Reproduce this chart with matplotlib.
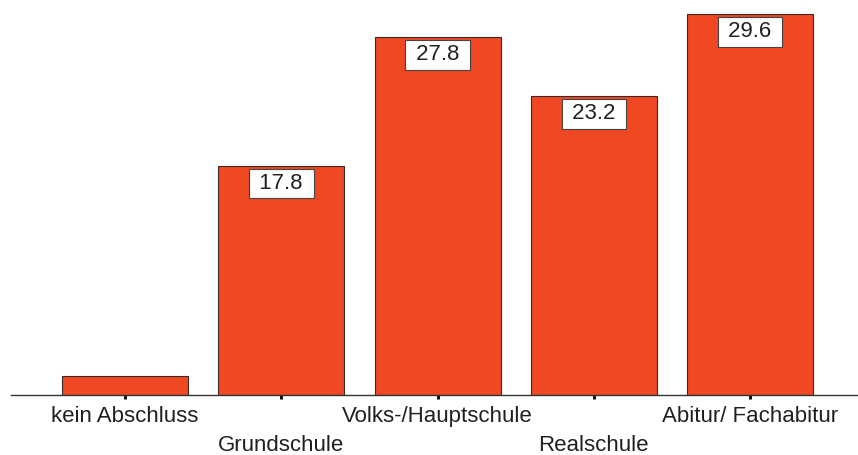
import matplotlib
matplotlib.use('Agg')
import matplotlib.pyplot as plt

plt.rcParams['font.family'] = ['Liberation Sans', 'DejaVu Sans']

categories = ['kein Abschluss', 'Grundschule', 'Volks-/Hauptschule', 'Realschule', 'Abitur/ Fachabitur']
values = [1.5, 17.8, 27.8, 23.2, 29.6]
shown = [None, '17.8', '27.8', '23.2', '29.6']

fig = plt.figure(figsize=(8.58, 4.55), dpi=100)
ax = fig.add_axes([11 / 858, 1 - 395 / 455, 1 - 11 / 858, 395 / 455])

x = list(range(len(categories)))
ax.bar(x, values, width=0.806, color='#EF4823', edgecolor='#3a2a26', linewidth=0.8, zorder=2)

# value boxes just under each bar top
for xi, v, s in zip(x, values, shown):
    if s is None:
        continue
    ax.annotate(' ' + s + ' ', xy=(xi, v), xytext=(0, -12.8), textcoords='offset points',
                ha='center', va='center', fontsize=16, color='#231F20', zorder=3,
                bbox=dict(boxstyle='square,pad=0.2', fc='white', ec='#444444', lw=0.8))

ax.set_xlim(-0.729, 4.69)
ax.set_ylim(0, 30.67)

for side in ['left', 'right', 'top']:
    ax.spines[side].set_visible(False)
ax.spines['bottom'].set_color('#333333')
ax.spines['bottom'].set_linewidth(1.0)

ax.set_yticks([])
ax.set_xticks(x)
ax.set_xticklabels(categories, fontsize=16, color='#231F20')
ax.tick_params(axis='x', length=3, width=2, color='black', direction='out', pad=5)
for i, tick in enumerate(ax.xaxis.get_major_ticks()):
    if i % 2 == 1:
        tick.set_pad(25.5)

fig.savefig('out.png', dpi=100)
